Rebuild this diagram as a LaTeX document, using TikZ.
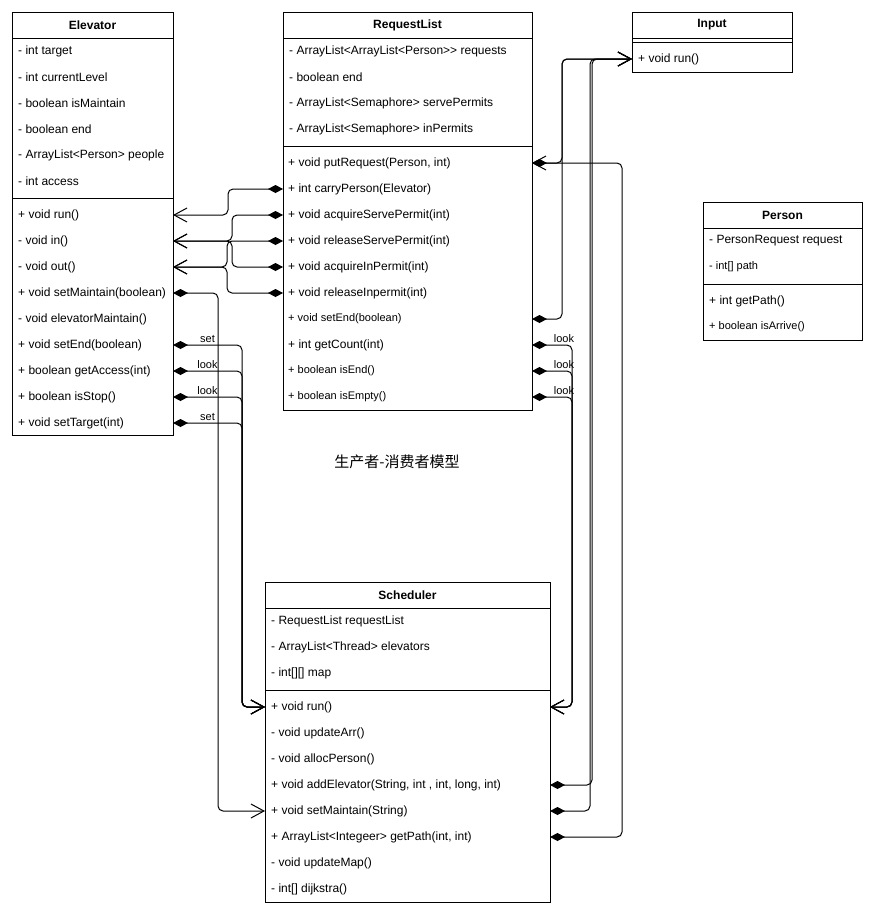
\documentclass[tikz,border=0pt]{standalone}
\usepackage{fontspec}
\setmainfont{Liberation Sans}
\newfontfamily\cjkfont{Noto Sans CJK SC}
\usetikzlibrary{arrows.meta}

\begin{document}
\begin{tikzpicture}[x=1pt, y=-1pt,
        classbox/.style={rectangle, draw=black, line width=1pt, fill=white,
        inner sep=0pt, outer sep=0pt, anchor=north west},
        classtitle/.style={font=\bfseries\fontsize{12}{14}\selectfont, inner sep=0pt},
        member/.style={anchor=west, inner sep=0pt, font=\fontsize{12}{14}\selectfont},
        smallmember/.style={member, font=\fontsize{11}{13}\selectfont},
        divider/.style={line width=1pt},
        uselink/.style={line width=1pt, rounded corners=5pt,
        {Diamond[length=15pt,width=8pt]}-{Straight Barb[length=13pt,width=14pt]}},
        linklabel/.style={font=\fontsize{11}{13}\selectfont, inner sep=1.5pt},
      ]
      \useasboundingbox (0,0) rectangle (871,914);

      % Elevator (left)
      \node[classbox, minimum width=161pt, minimum height=423pt] (elevator) at (12,12) {};
      \node[classtitle] (elevtitle) at (92.5,25) {Elevator};
      \draw[divider] ([yshift=-26pt]elevator.north west) -- ([yshift=-26pt]elevator.north east);
      \draw[divider] ([yshift=-186pt]elevator.north west) -- ([yshift=-186pt]elevator.north east);
      \node[member] (elevtarget) at (18,51) {- int target};
      \node[member] (elevlevel) at (18,77) {- int currentLevel};
      \node[member] (elevismaint) at (18,103) {- boolean isMaintain};
      \node[member] (elevend) at (18,129) {- boolean end};
      \node[member] (elevpeople) at (18,155) {- ArrayList<Person> people};
      \node[member] (elevaccess) at (18,181) {- int access};
      \node[member] (elevrun) at (18,215) {+ void run()};
      \node[member] (elevin) at (18,241) {- void in()};
      \node[member] (elevout) at (18,267) {- void out()};
      \node[member] (elevsetmaint) at (18,293) {+ void setMaintain(boolean)};
      \node[member] (elevmaint) at (18,319) {- void elevatorMaintain()};
      \node[member] (elevsetend) at (18,345) {+ void setEnd(boolean)};
      \node[member] (elevgetacc) at (18,371) {+ boolean getAccess(int)};
      \node[member] (elevisstop) at (18,397) {+ boolean isStop()};
      \node[member] (elevsettarget) at (18,423) {+ void setTarget(int)};

      % RequestList (top middle)
      \node[classbox, minimum width=249pt, minimum height=398pt] (reqlist) at (283,12) {};
      \node[classtitle] (rltitle) at (407.5,25) {RequestList};
      \draw[divider] ([yshift=-26pt]reqlist.north west) -- ([yshift=-26pt]reqlist.north east);
      \draw[divider] ([yshift=-134pt]reqlist.north west) -- ([yshift=-134pt]reqlist.north east);
      \node[member] (rlrequests) at (289,51) {- ArrayList<ArrayList<Person>{}> requests};
      \node[member] (rlend) at (289,77) {- boolean end};
      \node[member] (rlserve) at (289,103) {- ArrayList<Semaphore> servePermits};
      \node[member] (rlin) at (289,129) {- ArrayList<Semaphore> inPermits};
      \node[member] (rlput) at (288,163) {+ void putRequest(Person, int)};
      \node[member] (rlcarry) at (288,189) {+ int carryPerson(Elevator)};
      \node[member] (rlacqserve) at (288,215) {+ void acquireServePermit(int)};
      \node[member] (rlrelserve) at (288,241) {+ void releaseServePermit(int)};
      \node[member] (rlacqin) at (288,267) {+ void acquireInPermit(int)};
      \node[member] (rlrelin) at (288,293) {+ void releaseInpermit(int)};
      \node[smallmember] (rlsetend) at (288,319) {+ void setEnd(boolean)};
      \node[member] (rlcount) at (288,345) {+ int getCount(int)};
      \node[smallmember] (rlisend) at (288,371) {+ boolean isEnd()};
      \node[smallmember] (rlisempty) at (288,397) {+ boolean isEmpty()};

      % Input (top right)
      \node[classbox, minimum width=160pt, minimum height=60pt] (input) at (632,12) {};
      \node[classtitle] (inputtitle) at (712,25) {Input};
      \draw[divider] ([yshift=-26pt]input.north west) -- ([yshift=-26pt]input.north east);
      \draw[divider] ([yshift=-30pt]input.north west) -- ([yshift=-30pt]input.north east);
      \node[member] (inputrun) at (638,59) {+ void run()};

      % Person (right)
      \node[classbox, minimum width=159pt, minimum height=138pt] (person) at (703,202) {};
      \node[classtitle] (persontitle) at (782.5,215) {Person};
      \draw[divider] ([yshift=-26pt]person.north west) -- ([yshift=-26pt]person.north east);
      \draw[divider] ([yshift=-82pt]person.north west) -- ([yshift=-82pt]person.north east);
      \node[member] (personreq) at (709,241) {- PersonRequest request};
      \node[smallmember] (personpath) at (709,267) {- int[] path};
      \node[member] (persongetpath) at (709,301) {+ int getPath()};
      \node[smallmember] (personarrive) at (709,327) {+ boolean isArrive()};

      % caption
      \node[font=\cjkfont\fontsize{15}{18}\selectfont] (caption) at (397,462) {生产者-消费者模型};

      % Scheduler (bottom)
      \node[classbox, minimum width=285pt, minimum height=320pt] (sched) at (265,582) {};
      \node[classtitle] (schedtitle) at (407.5,595) {Scheduler};
      \draw[divider] ([yshift=-26pt]sched.north west) -- ([yshift=-26pt]sched.north east);
      \draw[divider] ([yshift=-108pt]sched.north west) -- ([yshift=-108pt]sched.north east);
      \node[member] (schedreqlist) at (271,621) {- RequestList requestList};
      \node[member] (schedelevs) at (271,647) {- ArrayList<Thread> elevators};
      \node[member] (schedmap) at (271,673) {- int[][] map};
      \node[member] (schedrun) at (271,707) {+ void run()};
      \node[member] (schedupdarr) at (271,733) {- void updateArr()};
      \node[member] (schedalloc) at (271,759) {- void allocPerson()};
      \node[member] (schedaddelev) at (271,785) {+ void addElevator(String, int , int, long, int)};
      \node[member] (schedsetmaint) at (271,811) {+ void setMaintain(String)};
      \node[member] (schedgetpath) at (271,837) {+ ArrayList<Integeer> getPath(int, int)};
      \node[member] (schedupdmap) at (271,863) {- void updateMap()};
      \node[member] (scheddijkstra) at (271,889) {- int[] dijkstra()};

      % RequestList -> Elevator
      \draw[uselink] (reqlist.west |- rlcarry) -- ++(-55,0) |- (elevator.east |- elevrun);
      \draw[uselink] (reqlist.west |- rlacqserve) -- ++(-51,0) |- (elevator.east |- elevin);
      \draw[uselink] (reqlist.west |- rlacqin) -- ++(-51,0) |- (elevator.east |- elevin);
      \draw[uselink] (reqlist.west |- rlrelserve) -- ++(-56,0) |- (elevator.east |- elevout);
      \draw[uselink] (reqlist.west |- rlrelin) -- ++(-56,0) |- (elevator.east |- elevout);

      % Elevator -> Scheduler
      \draw[uselink] (elevator.east |- elevsetmaint) -- ++(45,0) |- (sched.west |- schedsetmaint);
      \draw[uselink] (elevator.east |- elevsetend) -- node[linklabel, above] {set} ++(69,0) |- (sched.west |- schedrun);
      \draw[uselink] (elevator.east |- elevgetacc) -- node[linklabel, above] {look} ++(69,0) |- (sched.west |- schedrun);
      \draw[uselink] (elevator.east |- elevisstop) -- node[linklabel, above] {look} ++(69,0) |- (sched.west |- schedrun);
      \draw[uselink] (elevator.east |- elevsettarget) -- node[linklabel, above] {set} ++(69,0) |- (sched.west |- schedrun);

      % links up to Input
      \draw[uselink] (reqlist.east |- rlput) -- ++(30,0) |- (input.west |- inputrun);
      \draw[uselink] (reqlist.east |- rlsetend) -- ++(30,0) |- (input.west |- inputrun);
      \draw[uselink] (sched.east |- schedaddelev) -- ++(42,0) |- (input.west |- inputrun);
      \draw[uselink] (sched.east |- schedsetmaint) -- ++(40,0) |- (input.west |- inputrun);
      \draw[uselink] (sched.east |- schedgetpath) -- ++(72,0) |- (reqlist.east |- rlput);

      % RequestList -> Scheduler
      \draw[uselink] (reqlist.east |- rlcount) -- node[linklabel, above, pos=0.8] {look} ++(40,0) |- (sched.east |- schedrun);
      \draw[uselink] (reqlist.east |- rlisend) -- node[linklabel, above, pos=0.8] {look} ++(40,0) |- (sched.east |- schedrun);
      \draw[uselink] (reqlist.east |- rlisempty) -- node[linklabel, above, pos=0.8] {look} ++(40,0) |- (sched.east |- schedrun);
    \end{tikzpicture}
\end{document}
